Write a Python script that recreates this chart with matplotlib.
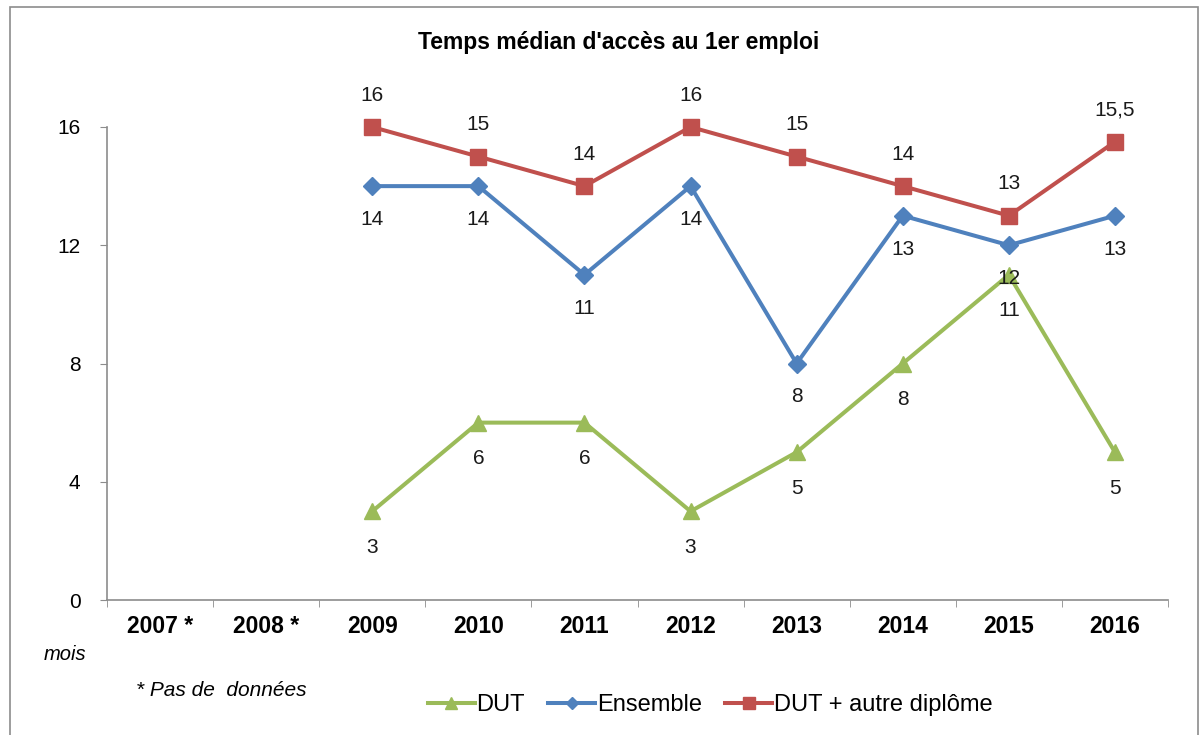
import numpy as np
import matplotlib
matplotlib.use("Agg")
import matplotlib.pyplot as plt
from matplotlib.patches import Rectangle

plt.rcParams['font.family'] = ['Liberation Sans', 'DejaVu Sans']

# data (months)
years = ["2007 *", "2008 *", "2009", "2010", "2011", "2012", "2013", "2014", "2015", "2016"]
dut = [np.nan, np.nan, 3, 6, 6, 3, 5, 8, 11, 5]
ensemble = [np.nan, np.nan, 14, 14, 11, 14, 8, 13, 12, 13]
dut_autre = [np.nan, np.nan, 16, 15, 14, 16, 15, 14, 13, 15.5]

green = "#9BBB59"
blue = "#4F81BD"
red = "#C0504D"

fig = plt.figure(figsize=(12.01, 7.35), dpi=100)
ax = fig.add_axes([107 / 1201, 1 - 600 / 735, (1168 - 107) / 1201, (600 - 127) / 735])

# outer chart frame
fig.patches.append(Rectangle((10 / 1201, -0.01), 1188 / 1201, 1 - 7 / 735 + 0.01,
                             transform=fig.transFigure, fill=False,
                             edgecolor="#8c8c8c", linewidth=1.2))

x = np.arange(len(years))
ax.plot(x, dut, color=green, lw=2.9, marker="^", ms=12, label="DUT", clip_on=False)
ax.plot(x, ensemble, color=blue, lw=2.9, marker="D", ms=9, label="Ensemble", clip_on=False)
ax.plot(x, dut_autre, color=red, lw=2.9, marker="s", ms=12, label="DUT + autre diplôme",
        clip_on=False)

def fmt(v):
    return ("%g" % v).replace(".", ",")

lab_size = 15
for xi, v in zip(x, dut):
    if not np.isnan(v):
        ax.annotate(fmt(v), (xi, v), xytext=(0, -26), textcoords="offset points",
                    ha="center", va="center", fontsize=lab_size, color="#1a1a1a")
for xi, v in zip(x, ensemble):
    if not np.isnan(v):
        ax.annotate(fmt(v), (xi, v), xytext=(0, -24), textcoords="offset points",
                    ha="center", va="center", fontsize=lab_size, color="#1a1a1a")
for xi, v in zip(x, dut_autre):
    if not np.isnan(v):
        ax.annotate(fmt(v), (xi, v), xytext=(0, 23), textcoords="offset points",
                    ha="center", va="center", fontsize=lab_size, color="#1a1a1a")

ax.set_xlim(-0.5, len(years) - 0.5)
ax.set_ylim(0, 16)
ax.set_yticks([0, 4, 8, 12, 16])
ax.set_xticks(x)
ax.set_xticklabels(years, fontweight="bold", fontsize=16.5)
ax.set_xticks(np.arange(-0.5, len(years)), minor=True)
ax.tick_params(axis="x", which="major", length=0, pad=11)
ax.tick_params(axis="x", which="minor", length=5, color="#8c8c8c", direction="out")
ax.tick_params(axis="y", length=5, color="#8c8c8c", labelsize=15, pad=14)

for side in ["top", "right"]:
    ax.spines[side].set_visible(False)
for side in ["left", "bottom"]:
    ax.spines[side].set_color("#8c8c8c")
    ax.spines[side].set_linewidth(1.2)

fig.text(619 / 1201, 1 - 42 / 735, "Temps médian d'accès au 1er emploi",
         ha="center", va="center", fontsize=16.5, fontweight="bold")
fig.text(65 / 1201, 1 - 655 / 735, "mois", ha="center", va="center",
         fontsize=14.5, style="italic")
fig.text(136 / 1201, 1 - 690 / 735, "* Pas de  données", ha="left", va="center",
         fontsize=15, style="italic")

fig.legend(loc="center", bbox_to_anchor=(710 / 1201, 1 - 705 / 735), ncol=3,
           frameon=False, fontsize=17, handlelength=2.0, handletextpad=0.05,
           columnspacing=1.0, markerscale=0.7)

fig.savefig("out.png", dpi=100)
